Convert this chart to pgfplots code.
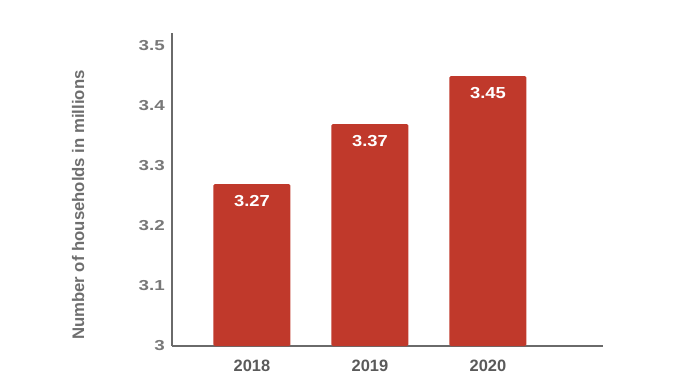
\documentclass[border=0pt]{standalone}
\usepackage{pgfplots}
\pgfplotsset{compat=1.18}
\usepackage{fontspec}
\setmainfont{Liberation Sans}
\newfontfamily\ytfont[FakeStretch=1.3]{Liberation Sans}
\newfontfamily\blfont[FakeStretch=1.15]{Liberation Sans}
\definecolor{barred}{HTML}{C0392B}
\definecolor{ytick}{HTML}{787878}
\definecolor{xtick}{HTML}{5A5A5A}
\definecolor{ylab}{HTML}{6E6E6E}
\definecolor{axline}{HTML}{6A6A6A}
\begin{document}
\begin{tikzpicture}
\begin{axis}[
  scale only axis,
  width=431bp, height=313bp,
  xmin=-0.678, xmax=2.975,
  ymin=3, ymax=3.5217,
  axis lines=left,
  axis line style={draw=axline, line width=1.2pt, -},
  major tick length=0pt,
  xtick={0,1,2},
  xticklabels={2018,2019,2020},
  ytick={3,3.1,3.2,3.3,3.4,3.5},
  yticklabels={3,3.1,3.2,3.3,3.4,3.5},
  xticklabel style={font=\bfseries\fontsize{16.5}{18}\selectfont, text=xtick, inner sep=0pt, anchor=north, yshift=-14bp},
  yticklabel style={font=\ytfont\bfseries\fontsize{14.5}{16}\selectfont, text=ytick, inner sep=0pt, anchor=east, xshift=-7bp},
  ylabel={Number of households in millions},
  ylabel style={at={(axis description cs:-0.218,0.45)}, anchor=center, rotate=0, font=\bfseries\fontsize{16.8}{18}\selectfont, text=ylab},
  clip=false,
  ybar,
  bar width=77bp,
  bar shift=0pt,
  nodes near coords,
  nodes near coords style={font=\blfont\bfseries\fontsize{16}{18}\selectfont, text=white, anchor=north, inner sep=0pt, yshift=-11bp, /pgf/number format/assume math mode=true, /pgf/number format/precision=2},
]
\addplot[fill=barred, draw=none, rounded corners=1.5pt] coordinates {(0,3.27) (1,3.37) (2,3.45)};
\end{axis}
\path (current axis.south west) ++(-172bp,-43bp) rectangle ++(690bp,389bp);
\end{tikzpicture}
\end{document}
